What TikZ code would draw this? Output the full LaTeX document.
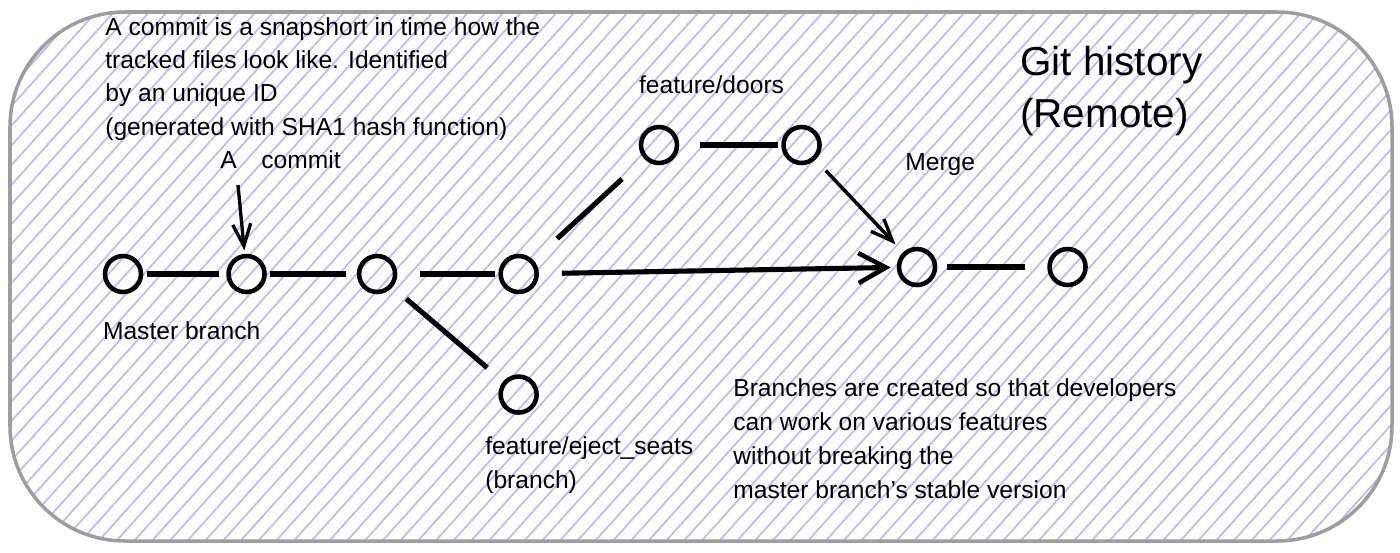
\documentclass[tikz,border=0pt]{standalone}
\usepackage{fontspec}
\setmainfont{Liberation Sans}
\usetikzlibrary{positioning,arrows.meta,patterns.meta}
\definecolor{hatch}{RGB}{186,190,234}
\definecolor{frame}{RGB}{158,158,158}

\begin{document}
\begin{tikzpicture}[x=0.02cm, y=-0.02cm, commit/.style={circle, draw, line width=2.6pt, minimum size=0.72cm, inner sep=0pt}, link/.style={line width=2.9pt}, flow/.style={line width=2.9pt, -{Straight Barb[length=5.5mm, width=6mm, line width=2.6pt]}}, pointer/.style={line width=1.9pt, -{Straight Barb[length=4.4mm, width=3.6mm, line width=1.9pt]}}, note/.style={font=\fontsize{14}{18.8}\selectfont, align=left, inner sep=0pt}]

\useasboundingbox (0,0) rectangle (1400,552);

% BACKGROUND

\draw [frame, line width=2pt, rounded corners=2.3cm, pattern={Lines[angle=48, distance=7.5pt, line width=1pt]}, pattern color=hatch] (10,12) rectangle (1392,541);

% COMMITS

\node [commit] (master-1) at (123,274) {};

\node [commit, right=1.66cm of master-1] (master-2) {};

\node [commit, right=1.8cm of master-2] (master-3) {};

\node [commit, right=2.02cm of master-3] (master-4) {};

\node [commit, below=1.6cm of master-4] (eject-1) {};

\node [commit] (doors-1) at (659,145) {};

\node [commit, right=2.04cm of doors-1] (doors-2) {};

\node [commit] (merge) at (917,267) {};

\node [commit, right=2.2cm of merge] (after) {};

\coordinate (commit-pointer) at (238,185);

% CONNECTORS

\draw [link, shorten <=2pt, shorten >=4pt] (master-1) -- (master-2);
\draw [link, shorten <=2pt, shorten >=6pt] (master-2) -- (master-3);
\draw [link, shorten <=0.45cm, shorten >=2pt] (master-3) -- (master-4);
\draw [link, shorten <=0.36cm, shorten >=0.42cm] (master-3) -- (eject-1);
\draw [link, shorten <=0.64cm, shorten >=0.6cm] (master-4) -- (doors-1);
\draw [link, shorten <=0.42cm, shorten >=2pt] (doors-1) -- (doors-2);
\draw [link, shorten <=0.2cm, shorten >=0.44cm] (merge) -- (after);
\draw [flow, shorten <=0.46cm, shorten >=0.12cm] (master-4) -- (merge);
\draw [pointer, line width=2pt, shorten <=0.3cm, shorten >=0.22cm] (doors-2) -- (merge);
\draw [pointer, shorten >=2pt] (commit-pointer) -- (master-2);

% LABELS (multi-line notes sit on the baseline of their last line)

\node [note, anchor=base west] (commit-note) at (105,135) {A commit is a snapshort in time how the\\tracked files look like. Identified\\by an unique ID\\(generated with SHA1 hash function)};

\node [note, anchor=base west] (commit-label) at (220,168) {A\quad commit};

\node [note, below=1.14cm of master-1.west, anchor=west] (master-label) {Master branch};

\node [note, above=1.2cm of doors-1.west, anchor=west] (doors-label) {feature/doors};

\node [note, anchor=base west] (merge-label) at (905,170) {Merge};

\node [note, anchor=base west] (eject-label) at (485,488) {feature/eject\_seats\\(branch)};

\node [note, anchor=base west, font=\fontsize{14}{19.3}\selectfont] (branch-note) at (733,498) {Branches are created so that developers\\can work on various features\\without breaking the\\master branch's stable version};

\node [note, anchor=base west, font=\fontsize{23}{29.5}\selectfont] (title) at (1020,127) {Git history\\(Remote)};

\end{tikzpicture}
\end{document}
